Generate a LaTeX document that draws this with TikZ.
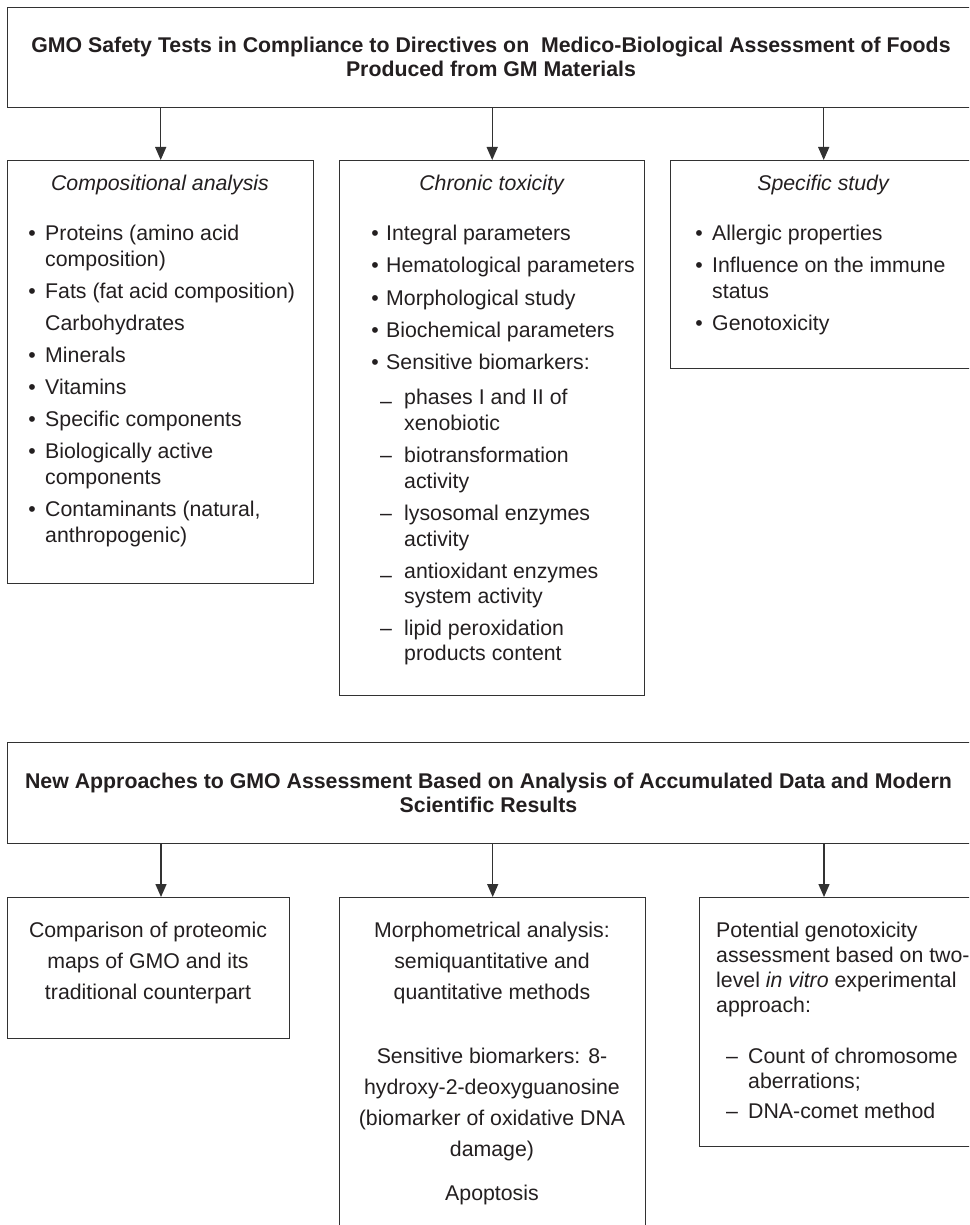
\documentclass[tikz,border=0pt]{standalone}
\usepackage{fontspec}
\setmainfont{Liberation Sans}
\usetikzlibrary{arrows.meta}
\definecolor{ink}{RGB}{35,31,32}
\definecolor{edge}{RGB}{50,50,50}
\tikzset{
  box/.style={draw=edge, line width=1.4pt, inner sep=0pt, anchor=north west},
  t/.style={inner sep=0pt, text=ink, font=\fontsize{21.3}{26}\selectfont, anchor=base west},
  tc/.style={t, anchor=base},
  hd/.style={tc, font=\itshape\fontsize{21.3}{26}\selectfont},
  ttl/.style={inner sep=0pt, text=ink, align=center, font=\bfseries\fontsize{21.3}{24}\selectfont},
  arr/.style={draw=edge, line width=1.4pt, -{Triangle[length=13pt,width=11pt]}},
}
\begin{document}
\begin{tikzpicture}[x=1pt,y=-1pt]
\useasboundingbox (0,0) rectangle (969,1225);
\clip (0,0) rectangle (969,1225);
\fill[white] (0,0) rectangle (969,1225);

% ---------- upper part ----------
\node[box, minimum width=968pt, minimum height=100pt] (t1box) at (7,7) {};
\node[ttl] (t1) at (491,57) {GMO Safety Tests in Compliance to Directives on\ \ Medico-Biological Assessment of Foods\\Produced from GM Materials};

\node[box, minimum width=306pt, minimum height=423pt] (b1) at (7,160) {};
\node[box, minimum width=305pt, minimum height=535pt] (b2) at (339,160) {};
\node[box, minimum width=306pt, minimum height=208pt] (b3) at (670,160) {};

\draw[arr] (t1box.south -| b1.north) -- (b1.north);
\draw[arr] (t1box.south -| b2.north) -- (b2.north);
\draw[arr] (t1box.south -| b3.north) -- (b3.north);

\node[hd] (h1) at (160,190) {Compositional analysis};
\node[hd] (h2) at (491.5,190) {Chronic toxicity};
\node[hd] (h3) at (823,190) {Specific study};

% box 1
\node[tc] (d1a) at (32,240) {•};
\node[t] (l1a) at (45,240) {Proteins (amino acid};
\node[t] (l1b) at (45,266) {composition)};
\node[tc] (d1c) at (32,298) {•};
\node[t] (l1c) at (45,298) {Fats (fat acid composition)};
\node[t] (l1d) at (45,330) {Carbohydrates};
\node[tc] (d1e) at (32,362) {•};
\node[t] (l1e) at (45,362) {Minerals};
\node[tc] (d1f) at (32,394) {•};
\node[t] (l1f) at (45,394) {Vitamins};
\node[tc] (d1g) at (32,426) {•};
\node[t] (l1g) at (45,426) {Specific components};
\node[tc] (d1h) at (32,458) {•};
\node[t] (l1h) at (45,458) {Biologically active};
\node[t] (l1i) at (45,484) {components};
\node[tc] (d1j) at (32,516) {•};
\node[t] (l1j) at (45,516) {Contaminants (natural,};
\node[t] (l1k) at (45,542) {anthropogenic)};

% box 2
\node[tc] (d2a) at (375,240) {•};
\node[t] (l2a) at (386,240) {Integral parameters};
\node[tc] (d2b) at (375,272) {•};
\node[t] (l2b) at (386,272) {Hematological parameters};
\node[tc] (d2c) at (375,305) {•};
\node[t] (l2c) at (386,305) {Morphological study};
\node[tc] (d2d) at (375,337) {•};
\node[t] (l2d) at (386,337) {Biochemical parameters};
\node[tc] (d2e) at (375,369) {•};
\node[t] (l2e) at (386,369) {Sensitive biomarkers:};
\node[tc] (s2f) at (386,408) {–};
\node[t] (l2f) at (404,404) {phases I and II of};
\node[t] (l2g) at (404,430) {xenobiotic};
\node[tc] (s2h) at (386,462) {–};
\node[t] (l2h) at (404,462) {biotransformation};
\node[t] (l2i) at (404,488) {activity};
\node[tc] (s2j) at (386,520) {–};
\node[t] (l2j) at (404,520) {lysosomal enzymes};
\node[t] (l2k) at (404,546) {activity};
\node[tc] (s2l) at (386,582) {–};
\node[t] (l2l) at (404,578) {antioxidant enzymes};
\node[t] (l2m) at (404,603) {system activity};
\node[tc] (s2n) at (386,635) {–};
\node[t] (l2n) at (404,635) {lipid peroxidation};
\node[t] (l2o) at (404,660) {products content};

% box 3
\node[tc] (d3a) at (699,240) {•};
\node[t] (l3a) at (712,240) {Allergic properties};
\node[tc] (d3b) at (699,272) {•};
\node[t] (l3b) at (712,272) {Influence on the immune};
\node[t] (l3c) at (712,298) {status};
\node[tc] (d3d) at (699,330) {•};
\node[t] (l3d) at (712,330) {Genotoxicity};

% ---------- lower part ----------
\node[box, minimum width=968pt, minimum height=101pt] (t2box) at (7,742) {};
\node[ttl] (t2) at (488.5,793) {New Approaches to GMO Assessment Based on Analysis of Accumulated Data and Modern\\Scientific Results};

\node[box, minimum width=282pt, minimum height=141pt] (b4) at (7,897) {};
\node[box, minimum width=306pt, minimum height=360pt] (b5) at (339,897) {};
\node[box, minimum width=306pt, minimum height=249pt] (b6) at (699,897) {};

\coordinate (a4) at (161,897);
\coordinate (a6) at (824,897);
\draw[arr] (t2box.south -| a4) -- (a4);
\draw[arr] (t2box.south -| b5.north) -- (b5.north);
\draw[arr] (t2box.south -| a6) -- (a6);

% box 4
\node[tc] (m4a) at (148,937) {Comparison of proteomic};
\node[tc] (m4b) at (148,968) {maps of GMO and its};
\node[tc] (m4c) at (148,999) {traditional counterpart};

% box 5
\node[tc] (m5a) at (492,937) {Morphometrical analysis:};
\node[tc] (m5b) at (492,968) {semiquantitative and};
\node[tc] (m5c) at (492,999) {quantitative methods};
\node[tc] (m5d) at (492,1063) {Sensitive biomarkers: 8-};
\node[tc] (m5e) at (492,1094) {hydroxy-2-deoxyguanosine};
\node[tc] (m5f) at (492,1125) {(biomarker of oxidative DNA};
\node[tc] (m5g) at (492,1156) {damage)};
\node[tc] (m5h) at (492,1200) {Apoptosis};

% box 6
\node[t] (m6a) at (716,937) {Potential genotoxicity};
\node[t] (m6b) at (716,962) {assessment based on two-};
\node[t] (m6c) at (716,987) {level \textit{in vitro} experimental};
\node[t] (m6d) at (716,1012) {approach:};
\node[tc] (s6e) at (732,1063) {–};
\node[t] (m6e) at (748,1063) {Count of chromosome};
\node[t] (m6f) at (748,1088) {aberrations;};
\node[tc] (s6g) at (732,1118) {–};
\node[t] (m6g) at (748,1118) {DNA-comet method};
\end{tikzpicture}
\end{document}
